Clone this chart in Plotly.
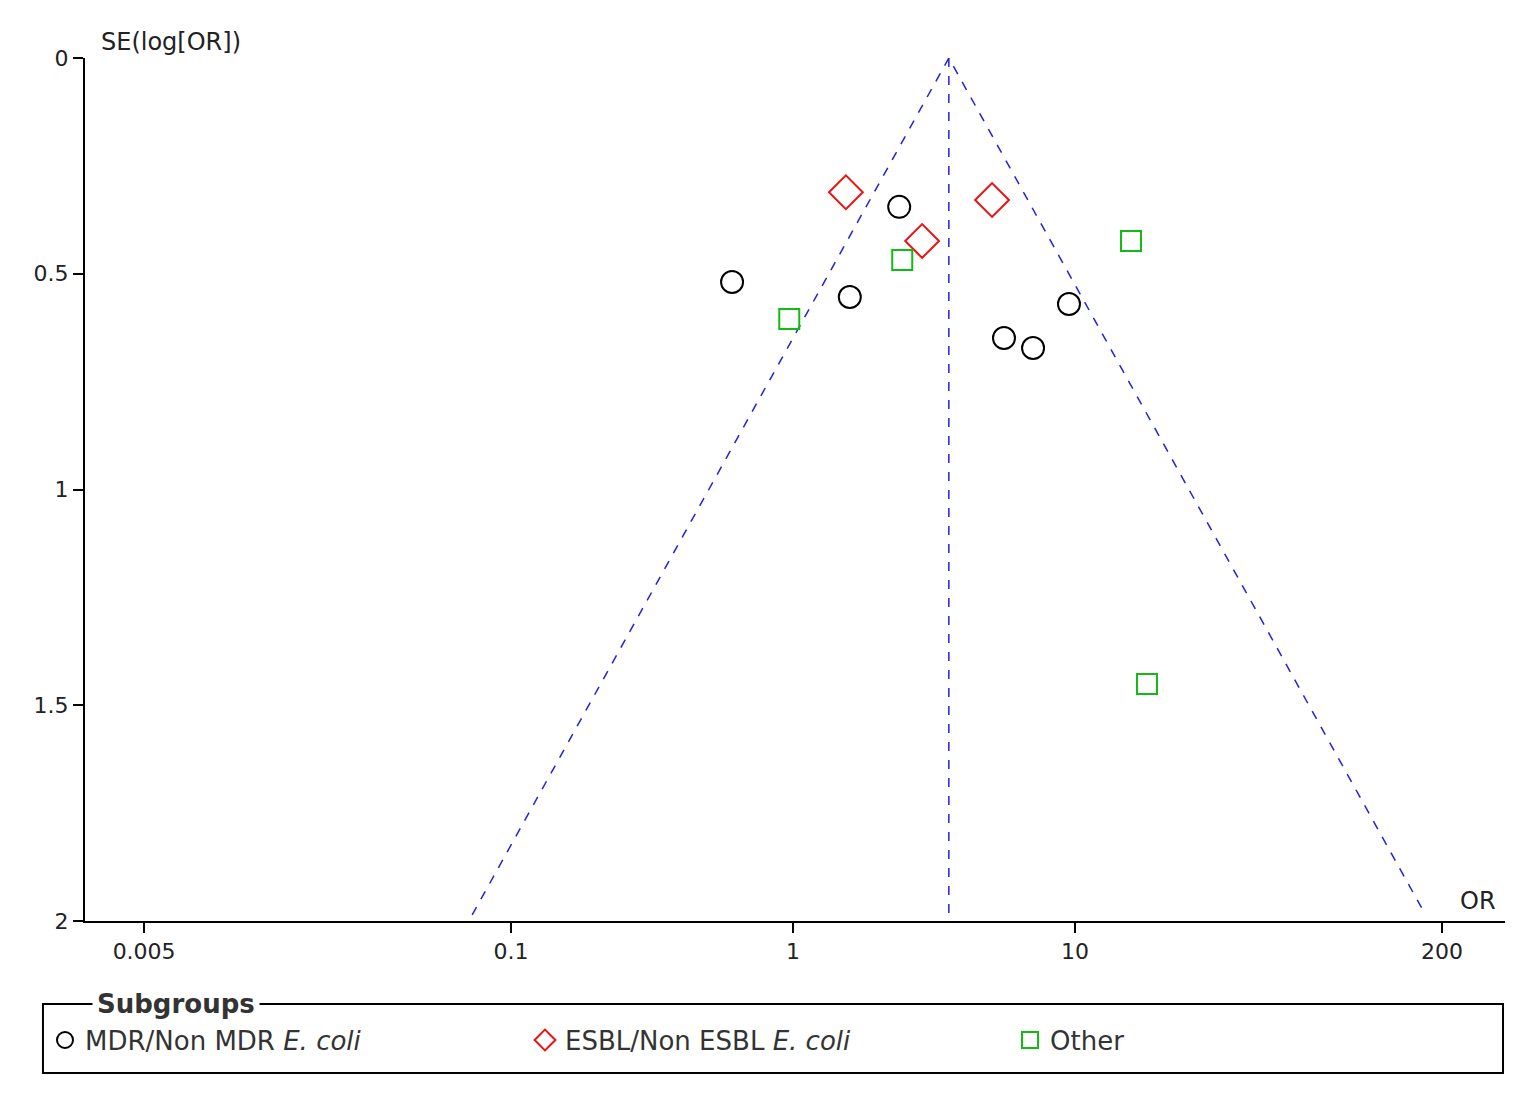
import plotly.graph_objects as go
import numpy as np

mdr_or = [0.608, 2.38, 1.59, 9.52, 5.6, 7.1]
mdr_se = [0.519, 0.345, 0.554, 0.570, 0.649, 0.672]
esbl_or = [1.54, 5.08, 2.87]
esbl_se = [0.311, 0.329, 0.424]
oth_or = [0.97, 2.44, 15.8, 18.0]
oth_se = [0.605, 0.468, 0.424, 1.451]
pooled_or = 3.57
x_ticks = [0.005, 0.1, 1, 10, 200]
x_ticklabels = ["0.005", "0.1", "1", "10", "200"]
y_ticks = [0, 0.5, 1, 1.5, 2]
y_ticklabels = ["0", "0.5", "1", "1.5", "2"]

fig = go.Figure()
se_max = 1.986
lp = np.log10(pooled_or)
k = 1.96 / np.log(10)
fig.add_trace(go.Scatter(x=[10**(lp - k*se_max), pooled_or, 10**(lp + k*se_max)],
                         y=[se_max, 0, se_max], mode="lines",
                         line=dict(color="#2222dd", dash="dash", width=1.5),
                         showlegend=False, hoverinfo="skip"))
fig.add_trace(go.Scatter(x=[pooled_or, pooled_or], y=[0, 2], mode="lines",
                         line=dict(color="#2222dd", dash="dash", width=1.5),
                         showlegend=False, hoverinfo="skip"))
fig.add_trace(go.Scatter(x=mdr_or, y=mdr_se, mode="markers", name="MDR/Non MDR <i>E. coli</i>",
                         legend="legend",
                         marker=dict(symbol="circle-open", size=22, color="black", line=dict(width=2))))
fig.add_trace(go.Scatter(x=esbl_or, y=esbl_se, mode="markers", name="ESBL/Non ESBL <i>E. coli</i>",
                         legend="legend2",
                         marker=dict(symbol="diamond-open", size=26, color="#ee1111", line=dict(width=2))))
fig.add_trace(go.Scatter(x=oth_or, y=oth_se, mode="markers", name="Other",
                         legend="legend3",
                         marker=dict(symbol="square-open", size=20, color="#11bb11", line=dict(width=2))))

lo = (85 - 793) / 282
hi = (1505 - 793) / 282

def leg(px):
    return dict(orientation="h", x=(px - 85) / 1420, y=-0.138, xanchor="left", yanchor="middle",
                bgcolor="rgba(0,0,0,0)", font=dict(size=26, color="#333"))

fig.update_layout(
    width=1521, height=1100, plot_bgcolor="white", paper_bgcolor="white",
    margin=dict(l=77, r=24, t=50, b=187),
    font=dict(family="DejaVu Sans", size=22, color="#222"),
    xaxis=dict(type="log", range=[lo, hi], tickvals=x_ticks, ticktext=x_ticklabels,
               showgrid=False, zeroline=False, showline=True, linecolor="black", linewidth=2,
               ticks="outside", ticklen=10, tickwidth=2, tickcolor="black"),
    yaxis=dict(range=[2, 0], tickvals=y_ticks, ticktext=y_ticklabels,
               showgrid=False, zeroline=False, showline=True, linecolor="black", linewidth=2,
               ticks="outside", ticklen=10, tickwidth=2, tickcolor="black"),
    legend=leg(45), legend2=leg(525), legend3=leg(1010),
    shapes=[dict(type="rect", xref="paper", yref="paper", x0=-0.0296, x1=0.9986,
                 y0=-0.176, y1=-0.0962, line=dict(color="black", width=2))],
    annotations=[
        dict(text="SE(log[OR])", xref="paper", yref="paper", x=0.01, y=1.0, xanchor="left",
             yanchor="bottom", showarrow=False, font=dict(size=24)),
        dict(text="OR", xref="paper", yref="paper", x=0.995, y=0.005, xanchor="right",
             yanchor="bottom", showarrow=False, font=dict(size=24)),
        dict(text="<b>Subgroups</b>", xref="paper", yref="paper", x=0.005, y=-0.0962,
             xanchor="left", yanchor="middle", showarrow=False, bgcolor="white",
             font=dict(size=26, color="#333"), borderpad=4),
    ],
)
fig.write_html("out.html")
